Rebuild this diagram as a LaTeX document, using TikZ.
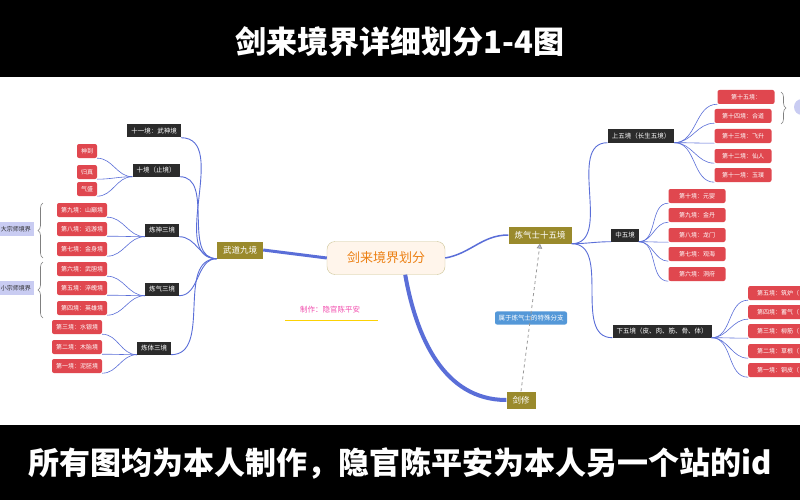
\documentclass[tikz,border=0pt]{standalone}
\usepackage{fontspec}
\setmainfont{Noto Sans CJK SC}
\usetikzlibrary{decorations.pathreplacing,arrows.meta}
\definecolor{olive}{HTML}{9A8A2C}
\definecolor{redb}{HTML}{E0474F}
\definecolor{darkb}{HTML}{2B2B2B}
\definecolor{lnk}{HTML}{5A6ED8}
\definecolor{lav}{HTML}{C9CCF2}
\tikzset{
 olv/.style={fill=olive,text=white,font=\fontsize{8.5}{9}\selectfont,minimum height=17pt,inner xsep=6pt},
 blk/.style={fill=darkb,text=white,font=\fontsize{6.5}{7}\selectfont,minimum height=13pt,inner xsep=4pt,inner ysep=1pt},
 rd/.style={fill=redb,text=white,font=\fontsize{6}{6.5}\selectfont,rounded corners=2pt,minimum height=14pt,inner xsep=4pt,inner ysep=1pt},
 lv/.style={fill=lav,text=darkb,font=\fontsize{6}{6.5}\selectfont,minimum height=14pt,inner xsep=3pt},
 br/.style={draw=lnk,line width=0.9pt},
 brc/.style={draw=gray,line width=0.6pt,decorate,decoration={brace,amplitude=5pt}},
 ttl/.style={text=white,font=\fontsize{31}{33}\selectfont\bfseries},
}
\begin{document}
\begin{tikzpicture}[x=1pt,y=-1pt]
\useasboundingbox (0,0) rectangle (800,500);
\fill[black] (0,0) rectangle (800,500);
\fill[white] (0,77) rectangle (800,425);
\node[ttl] (title) at (400,42) {剑来境界详细划分1-4图};
\node[ttl] (foot) at (400,463) {所有图均为本人制作，隐官陈平安为本人另一个站的id};
% main nodes
\node[draw=olive!50,fill=orange!8,rounded corners=8pt,minimum width=118pt,minimum height=33pt,text=orange!70!brown,font=\fontsize{13}{15}\selectfont] (c) at (386,258) {剑来境界划分};
\node[olv] (wd) at (240,250) {武道九境};
\node[olv] (lq) at (540,235) {炼气士十五境};
\node[olv] (jx) at (521,400) {剑修};
\node[text=magenta!70,font=\fontsize{7.5}{8}\selectfont] (zz) at (330,310) {制作：隐官陈平安};
\coordinate (u1) at (285,320); \coordinate (u2) at (378,320);
\draw[yellow!70!orange,line width=1pt] (u1) -- (u2);
\node[fill=cyan!60!blue!70,text=white,rounded corners=2pt,font=\fontsize{6.5}{7}\selectfont,inner sep=3.5pt] (sp) at (531,318) {属于炼气士的特殊分支};
\draw[gray!80,dashed,line width=0.8pt,-{Triangle[open,fill=lnk!40]}] (jx.north) -- (lq.south);
\draw[lnk,line width=3pt] (c.west) -- (wd.east);
\draw[lnk,line width=1.5pt] (c.east) to[out=10,in=180] (lq.west);
\draw[lnk,line width=4pt] (c.south east)+(-40,0) to[out=-80,in=180] (jx.west);
% left groups
\node[blk] (g1) at (154,131) {十一境：武神境};
\node[blk] (g2) at (156,170) {十境（止境）};
\node[blk] (g3) at (162,230) {炼神三境};
\node[blk] (g4) at (162,289) {炼气三境};
\node[blk] (g5) at (154,348) {炼体三境};
\foreach \g in {g1,g2,g3,g4,g5}{\draw[br] (wd.south west) to[out=180,in=0] (\g.south east);}
\foreach \n/\t/\x/\y/\p in {a1/神到/87/151/g2,a2/归真/87/172/g2,a3/气盛/87/189/g2,
 b1/第九境：山巅境/82/210/g3,b2/第八境：远游境/82/229/g3,b3/第七境：金身境/82/249/g3,
 d1/第六境：武胆境/82/269/g4,d2/第五境：淬魄境/82/288/g4,d3/第四境：英雄境/82/308/g4,
 e1/第三境：水银境/77/327/g5,e2/第二境：木胎境/77/347/g5,e3/第一境：泥胚境/77/366/g5}{
 \node[rd] (\n) at (\x,\y) {\t};
 \draw[br,line width=0.6pt] (\p.south west) to[out=180,in=0] (\n.south east);}
\draw[brc] (43,258) -- (43,203);
\draw[brc] (43,318) -- (43,262);
\node[lv] (dz) at (16,229) {大宗师境界};
\node[lv] (xz) at (16,288) {小宗师境界};
% right groups
\node[blk] (r1) at (641,136) {上五境（长生五境）};
\node[blk] (r2) at (625,235) {中五境};
\node[blk] (r3) at (662,331) {下五境（皮、肉、筋、骨、体）};
\foreach \g in {r1,r2,r3}{\draw[br] (lq.south east) to[out=0,in=180] (\g.south west);}
\foreach \n/\t/\x/\y/\p in {s1/第十五境：/746/97/r1,s2/第十四境：合道/743/116/r1,s3/第十三境：飞升/743/136/r1,s4/第十二境：仙人/743/156/r1,s5/第十一境：玉璞/743/175/r1,
 m1/第十境：元婴/697/196/r2,m2/第九境：金丹/697/215/r2,m3/第八境：龙门/697/235/r2,m4/第七境：观海/697/254/r2,m5/第六境：洞府/697/274/r2}{
 \node[rd,minimum width=57pt] (\n) at (\x,\y) {\t};
 \draw[br,line width=0.6pt] (\p.south east) to[out=0,in=180] (\n.south west);}
\foreach \n/\t/\y in {l1/第五境：筑炉（/293,l2/第四境：蓄气（/312,l3/第三境：柳筋（/331,l4/第二境：草根（/351,l5/第一境：铜皮（/370}{
 \node[rd,minimum width=60pt,anchor=west] (\n) at (748,\y) {\t};
 \draw[br,line width=0.6pt] (r3.south east) to[out=0,in=180] (\n.south west);}
\draw[brc] (781,92) -- (781,124);
\node[circle,fill=lav,minimum size=16pt] (cc) at (802,107) {};
\end{tikzpicture}
\end{document}
